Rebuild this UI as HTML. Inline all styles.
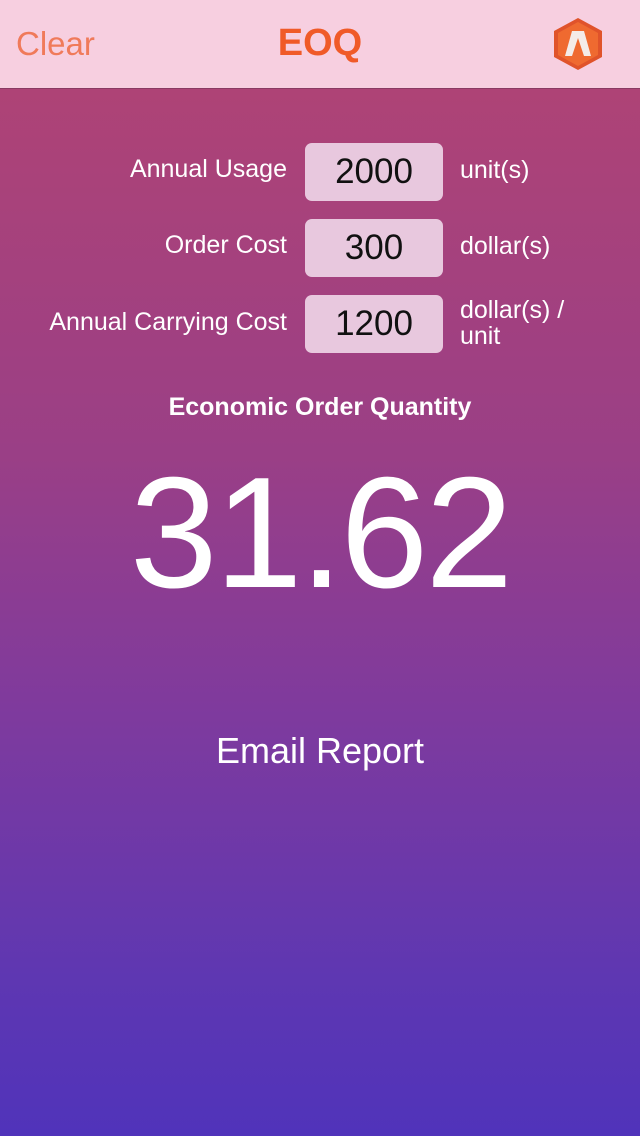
<!DOCTYPE html>
<html><head><meta charset="utf-8"><style>
html,body{margin:0;padding:0;width:640px;height:1136px;overflow:hidden;font-family:"Liberation Sans",sans-serif}
.header{position:absolute;left:0;top:0;width:640px;height:88px;background:#f7cfe0;border-bottom:1px solid #8a3a62}
.main{position:absolute;left:0;top:89px;width:640px;height:1047px;background:linear-gradient(#ae4376 0%,#9a3f86 35%,#7e3a9e 60%,#5e37b2 85%,#5033ba 100%)}
.lbl{position:absolute;right:353px;color:#fff;font-size:25px;text-align:right;white-space:nowrap}
.box{position:absolute;left:305px;width:138px;height:58px;background:#e8c8de;border-radius:7px;color:#111;font-size:35px;text-align:center;line-height:58px}
.unit{position:absolute;left:460px;color:#fff;font-size:25px;line-height:26px}
</style></head><body>
<div class="header">
 <div style="position:absolute;left:16px;top:25px;font-size:33px;color:#f07a5a">Clear</div>
 <div style="position:absolute;left:0;width:640px;top:22px;text-align:center;font-size:38px;font-weight:bold;color:#f05a28">EOQ</div>
 <svg style="position:absolute;left:551px;top:16px" width="54" height="56" viewBox="0 0 54 56">
  <polygon points="27,2 51,15 51,41 27,54 3,41 3,15" fill="#e0532a"/>
  <polygon points="27,6 47,17 47,39 27,50 7,39 7,17" fill="#ef6a30"/>
  <polygon points="21,15 33,15 40,40 33,40 27,22 21,40 14,40" fill="#f4ece8"/>
 </svg>
</div>
<div class="main"></div>

<div class="lbl" style="top:155px">Annual Usage</div>
<div class="box" style="top:143px">2000</div>
<div class="unit" style="top:157px">unit(s)</div>

<div class="lbl" style="top:231px">Order Cost</div>
<div class="box" style="top:219px">300</div>
<div class="unit" style="top:233px">dollar(s)</div>

<div class="lbl" style="top:308px">Annual Carrying Cost</div>
<div class="box" style="top:295px">1200</div>
<div class="unit" style="top:297px">dollar(s) /<br>unit</div>

<div style="position:absolute;left:0;width:640px;top:393px;text-align:center;color:#fff;font-size:25px;font-weight:bold">Economic Order Quantity</div>
<div style="position:absolute;left:0;width:640px;top:448px;text-align:center;color:#fff;font-size:158px;letter-spacing:-3px;line-height:170px">31.62</div>

<div style="position:absolute;left:0;width:640px;top:730px;text-align:center;color:#fff;font-size:36px">Email Report</div>
</body></html>
